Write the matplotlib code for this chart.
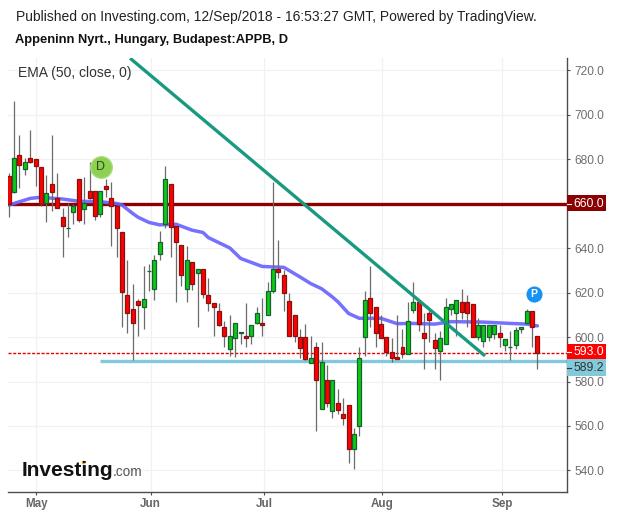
import matplotlib
matplotlib.use("Agg")
import matplotlib.pyplot as plt
from matplotlib.patches import Rectangle

W, H = 619, 516
plt.rcParams['font.family'] = ['Liberation Sans', 'DejaVu Sans']

ups = [0,1,0,1,0,0,0,1,0,0,0,1,1,0,1,0,0,1,0,0,
       0,0,0,0,0,1,1,1,1,1,0,0,0,1,0,1,0,0,0,0,
       0,1,1,1,0,1,1,0,1,1,0,0,0,0,0,0,1,0,1,0,
       1,0,0,0,1,1,1,0,0,0,0,0,0,0,1,1,0,0,0,0,
       1,1,1,1,0,0,0,1,1,1,1,0,1,1,1,1,1,0,0]
highs = [673.5,706,690.8,680.6,693,680,676.5,672.8,690.8,673.5,657.8,660.4,660,671,671.7,678.5,665.5,665.5,671,669.5,
         659,647.4,634.6,623.6,617.3,631.9,632.8,636.7,647.6,676.8,668.6,649.7,641.5,640.7,633.5,630.4,630.4,626.3,615.4,615.5,
         607.3,609.8,606.4,602.4,615.5,605.6,613.3,617.6,624.7,669.5,643.6,630,619.6,609.7,603.4,605.7,600.4,597.6,597.6,587.3,
         580.5,576.5,572.4,569.3,559.2,595.3,620.7,631.9,613.3,609.7,600.1,599.4,609.9,603.6,615.6,624.6,615.6,610.9,612.4,601.6,
         602.7,617.4,614.7,616.5,621.6,618.9,614.7,608.4,605.5,605.5,605.5,605.5,599.2,602.7,604.6,604.3,612.4,611.5,600.3]
tops = [672.5,680.6,681.6,678.5,680.6,679.8,676.5,664.6,668.6,662.6,653.8,649,658.7,671,660.4,665.5,665.5,665.5,667.7,662.6,
        658.7,647.4,618.7,612.4,616.4,617.3,629.5,634.4,642.5,670.8,668.6,649.7,641.5,634.4,633.5,630.4,630.4,618.7,615.4,611.5,
        604.3,600.3,606.4,602.4,600.3,605.6,610.6,606.5,620.5,630.4,630.4,627.7,616.4,609.7,600.1,600.1,590.4,595.3,588.6,580.5,
        580.5,570.5,565.2,569.3,556.3,590.4,616.5,617.4,613.3,605.7,600.1,593.4,591.2,595.3,607.3,615.6,615.6,601.6,610.6,598.5,
        599.4,613.3,614.7,616.5,615.6,615.6,614.7,605.5,605.5,605.5,605.5,601.6,599.2,595.3,603.3,604.3,611.5,611.5,600.3]
bottoms = [659.6,665.3,677.4,675.6,678.5,676.7,659.6,660.4,665.3,657.8,649.7,649,656.3,652.4,657.7,662.6,654.5,655.4,666.7,658.7,
           648.8,620.3,610.6,606.5,614.5,613.3,629.5,621.4,637.4,650.6,649.5,642.5,627.7,621.4,623.6,628.6,619.4,615.4,613.3,605.6,
           600.3,594.4,599.4,601.6,599.4,600.3,606.4,605.5,609.7,620.5,629.3,619.6,600.3,600.3,595.2,590.3,588.5,580.5,567.5,570.5,
           566.6,567.3,563.4,549.5,549.5,560.1,600.1,610.6,601.6,599.4,593.4,590.4,590.3,592.5,592.5,612.3,605.7,599.4,607.5,595.2,
           593.5,596.7,612.4,610.6,611.4,610.6,600.1,600.1,598.3,600.1,601.5,600.1,596.5,595.3,596.5,603.4,606.4,604.3,593.0]
lows = [654,664.5,667,672.8,678,668,659,651.8,656.8,657.8,636,645,650.8,651.8,650.8,662,652.6,653.8,662.8,641,
        636,604.6,601.9,589.6,600.6,603.7,620.8,616.7,634.7,649,636,615.8,623,615.8,621,604.6,617.6,611.8,600.6,605,
        595.6,591.6,590.8,597,595.6,596.8,605.8,600.6,609.7,619.9,626.6,611.8,600.3,597.9,590.7,589.7,588.5,557.7,567.5,568.7,
        563.7,565.5,560.4,543.5,540.8,555.5,591.5,604.6,595.3,599.4,591.5,588.9,590.3,590.6,592.5,611,602.8,585.6,597.9,585.8,
        580.7,596.7,609.9,600.6,608,604.6,600.1,598.6,595.6,598.3,598.9,595.6,593.5,589.7,594.5,601.9,606.4,595.6,585.8]
assert all(len(a) == 99 for a in (ups, highs, tops, bottoms, lows))

ema_idx = [0,4,6,10,13,17,20,21,23,24,26,28,31,34,36,37,41,43,47,51,54,56,58,60,61,63,65,67,69,72,75,79,82,88,93,96,98]
ema_vals = [659.3,662.3,662.8,662,661,660.8,660,659.3,655.5,653.8,651.5,650.4,650.7,648,647,644.7,640,635.3,631.7,631.3,
            627,624,621.7,618,615.9,610.6,608.4,608.4,608.4,606,606.1,605.8,606.9,606.7,606.1,605.8,605]

trend_idx = [22.5, 88.3]
trend_vals = [725.3, 591.5]
resistance = 660.0
support = 589.2
support_start = 17
last_price = 593.0

month_ticks = [5.1, 26.3, 47.3, 69.26, 91.45]
month_labels = ['May', 'Jun', 'Jul', 'Aug', 'Sep']
price_ticks = [540, 560, 580, 600, 620, 640, 660, 680, 700, 720]

fig = plt.figure(figsize=(W/100, H/100), dpi=100)
ax = fig.add_axes([8/W, 1-492.3/H, (567.3-8)/W, (492.3-58)/H])
ax.set_xlim(-0.13, 103.55)
ax.set_ylim(530.2, 725.4)

for s in ('top', 'left'):
    ax.spines[s].set_visible(False)
for s in ('right', 'bottom'):
    ax.spines[s].set_color('#4d4d4d')
    ax.spines[s].set_linewidth(1.0)
ax.yaxis.tick_right()
ax.set_yticks(price_ticks)
ax.set_yticklabels([f'{v:.1f}' for v in price_ticks], fontsize=8.6, color='#6e6e6e')
ax.set_xticks(month_ticks)
ax.set_xticklabels(month_labels, fontsize=8.4, color='#666666', fontweight='bold')
ax.tick_params(axis='both', length=2.4, width=0.8, color='#4d4d4d')
ax.tick_params(axis='y', pad=2.8)
ax.tick_params(axis='x', pad=2)
ax.grid(True, color='#f1f1f1', lw=0.9)
ax.set_axisbelow(True)

# levels
ax.axhline(resistance, color='#8b0000', lw=2.4, zorder=2)
ax.plot([support_start, 103.55], [support, support], color='#82c9d9', lw=2.4, zorder=2, solid_capstyle='butt')
ax.axhline(last_price, color='#e00000', lw=1.0, dashes=(2.2, 1.2), zorder=2)

# EMA
ax.plot(ema_idx, ema_vals, color='#6a64ff', lw=2.5, alpha=0.92, zorder=2.5,
        solid_joinstyle='round', solid_capstyle='round')

# candles
xs = list(range(len(ups)))
ax.vlines(xs, lows, highs, color='#6b6b6b', lw=0.9, zorder=3)
for i in xs:
    up = ups[i]
    ax.bar(i, tops[i]-bottoms[i], bottom=bottoms[i], width=0.74,
           facecolor='#0bcb12' if up else '#ff0000',
           edgecolor='#1a5f33' if up else '#8a1010', lw=0.9, zorder=4)

# trend line
ax.plot(trend_idx, trend_vals, color='#199a80', lw=2.4, zorder=5, solid_capstyle='butt')

# event markers
ax.scatter([17.1], [676.4], s=240, color='#8dd152', edgecolor='#a7dc79', lw=1, zorder=6)
ax.text(17.1, 676.2, 'D', ha='center', va='center', fontsize=9, color='#2d4a14', zorder=7)
ax.scatter([97.3], [619.3], s=150, color='#1593f5', edgecolor='#ffffff', lw=0.6, zorder=6)
ax.text(97.3, 619.2, 'P', ha='center', va='center', fontsize=7.5, color='white', fontweight='bold', zorder=7)

# price labels on the axis
tr = ax.get_yaxis_transform()
box_w = 39/559.3
def price_box(lo, hi, color, text, tcolor, tickc, tick_at):
    ax.add_patch(Rectangle((1, lo), box_w, hi-lo, transform=tr, color=color, clip_on=False, zorder=8, lw=0))
    ax.text(1+0.5*box_w+0.003, tick_at, text, transform=tr, ha='center', va='center', fontsize=8.8,
            color=tcolor, zorder=9, clip_on=False)
    ax.plot([1, 1+4/559.3], [tick_at, tick_at], transform=tr, color=tickc, lw=0.8, clip_on=False, zorder=9)

price_box(656.5, 663.6, '#8b0000', '660.0', 'white', 'white', resistance)
price_box(589.9, 597.0, '#ff0000', '593.0', 'white', 'white', 593.4)
price_box(582.4, 589.9, '#82c9d9', '589.2', '#333333', '#333333', 586.2)

def px(x, y):
    return x/W, 1-y/H

fig.text(*px(16, 17), 'Published on Investing.com, 12/Sep/2018 - 16:53:27 GMT, Powered by TradingView.',
         fontsize=9.97, color='#222222', va='center')
fig.text(*px(15, 40), 'Appeninn Nyrt., Hungary, Budapest:APPB, D',
         fontsize=9.25, color='#111111', va='center', fontweight='bold')
fig.text(*px(18, 73.5), 'EMA (50, close, 0)', fontsize=10, color='#333333', va='center')
fig.text(*px(22, 476.5), 'Investing', fontsize=15, color='#111111', va='baseline', fontweight='bold')
fig.text(*px(113, 476.5), '.com', fontsize=9.8, color='#555555', va='baseline')
ax.scatter([(83-8)/559.3], [(492.3-461.5)/434.3], s=7, color='#f7a11a', transform=ax.transAxes, zorder=7, lw=0)

fig.savefig('out.png', dpi=100)
